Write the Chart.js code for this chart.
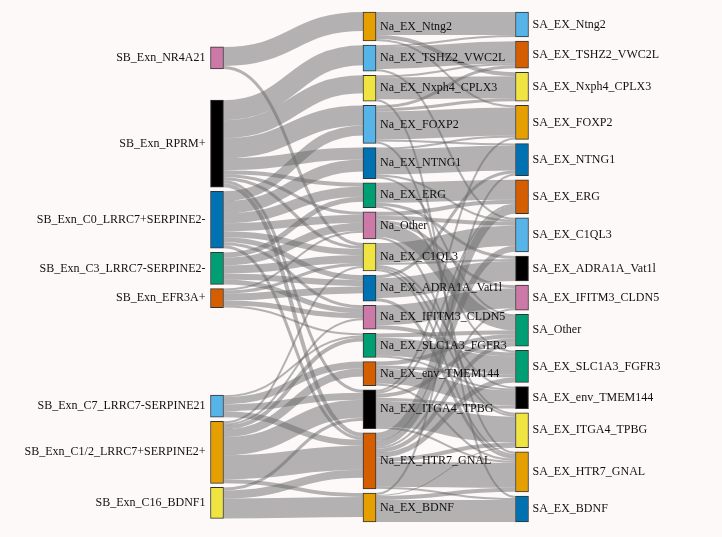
<!DOCTYPE html>
<html>
<head>
<meta charset="utf-8">
<script src="https://cdn.jsdelivr.net/npm/chart.js@4.4.0/dist/chart.umd.min.js"></script>
<style>
  html, body { margin: 0; padding: 0; background: #fdf9f9; }
</style>
</head>
<body>
<canvas id="sankey" width="722" height="537"></canvas>
<script>
// ===== DATA =====

const leftNodes = [
  "SB_Exn_NR4A21", "SB_Exn_RPRM+", "SB_Exn_C0_LRRC7+SERPINE2-", "SB_Exn_C3_LRRC7-SERPINE2-",
  "SB_Exn_EFR3A+", "SB_Exn_C7_LRRC7-SERPINE21", "SB_Exn_C1/2_LRRC7+SERPINE2+", "SB_Exn_C16_BDNF1"
];

const middleNodes = [
  "Na_EX_Ntng2", "Na_EX_TSHZ2_VWC2L", "Na_EX_Nxph4_CPLX3", "Na_EX_FOXP2", "Na_EX_NTNG1",
  "Na_EX_ERG", "Na_Other", "Na_EX_C1QL3", "Na_EX_ADRA1A_Vat1l", "Na_EX_IFITM3_CLDN5",
  "Na_EX_SLC1A3_FGFR3", "Na_EX_env_TMEM144", "Na_EX_ITGA4_TPBG", "Na_EX_HTR7_GNAL", "Na_EX_BDNF"
];

const rightNodes = [
  "SA_EX_Ntng2", "SA_EX_TSHZ2_VWC2L", "SA_EX_Nxph4_CPLX3", "SA_EX_FOXP2", "SA_EX_NTNG1",
  "SA_EX_ERG", "SA_EX_C1QL3", "SA_EX_ADRA1A_Vat1l", "SA_EX_IFITM3_CLDN5", "SA_Other",
  "SA_EX_SLC1A3_FGFR3", "SA_EX_env_TMEM144", "SA_EX_ITGA4_TPBG", "SA_EX_HTR7_GNAL", "SA_EX_BDNF"
];

// SB -> Na
const leftLinks = [
  ["SB_Exn_NR4A21", "Na_EX_Ntng2", 19],
  ["SB_Exn_NR4A21", "Na_EX_C1QL3", 3],

  ["SB_Exn_RPRM+", "Na_EX_TSHZ2_VWC2L", 20],
  ["SB_Exn_RPRM+", "Na_EX_Nxph4_CPLX3", 18],
  ["SB_Exn_RPRM+", "Na_EX_FOXP2", 20],
  ["SB_Exn_RPRM+", "Na_EX_NTNG1", 12],
  ["SB_Exn_RPRM+", "Na_EX_ERG", 4],
  ["SB_Exn_RPRM+", "Na_Other", 3],
  ["SB_Exn_RPRM+", "Na_EX_C1QL3", 3],
  ["SB_Exn_RPRM+", "Na_EX_ITGA4_TPBG", 3],
  ["SB_Exn_RPRM+", "Na_EX_HTR7_GNAL", 4],

  ["SB_Exn_C0_LRRC7+SERPINE2-", "Na_EX_FOXP2", 10],
  ["SB_Exn_C0_LRRC7+SERPINE2-", "Na_EX_NTNG1", 12],
  ["SB_Exn_C0_LRRC7+SERPINE2-", "Na_EX_ERG", 10],
  ["SB_Exn_C0_LRRC7+SERPINE2-", "Na_Other", 8],
  ["SB_Exn_C0_LRRC7+SERPINE2-", "Na_EX_C1QL3", 6],
  ["SB_Exn_C0_LRRC7+SERPINE2-", "Na_EX_ADRA1A_Vat1l", 5],
  ["SB_Exn_C0_LRRC7+SERPINE2-", "Na_EX_IFITM3_CLDN5", 3],
  ["SB_Exn_C0_LRRC7+SERPINE2-", "Na_EX_HTR7_GNAL", 3],

  ["SB_Exn_C3_LRRC7-SERPINE2-", "Na_EX_ERG", 5],
  ["SB_Exn_C3_LRRC7-SERPINE2-", "Na_Other", 8],
  ["SB_Exn_C3_LRRC7-SERPINE2-", "Na_EX_C1QL3", 8],
  ["SB_Exn_C3_LRRC7-SERPINE2-", "Na_EX_ADRA1A_Vat1l", 6],
  ["SB_Exn_C3_LRRC7-SERPINE2-", "Na_EX_IFITM3_CLDN5", 5],

  ["SB_Exn_EFR3A+", "Na_Other", 2],
  ["SB_Exn_EFR3A+", "Na_EX_C1QL3", 3],
  ["SB_Exn_EFR3A+", "Na_EX_ADRA1A_Vat1l", 7],
  ["SB_Exn_EFR3A+", "Na_EX_IFITM3_CLDN5", 5],
  ["SB_Exn_EFR3A+", "Na_EX_SLC1A3_FGFR3", 2],

  ["SB_Exn_C7_LRRC7-SERPINE21", "Na_EX_SLC1A3_FGFR3", 2],
  ["SB_Exn_C7_LRRC7-SERPINE21", "Na_EX_env_TMEM144", 7],
  ["SB_Exn_C7_LRRC7-SERPINE21", "Na_EX_ITGA4_TPBG", 7],
  ["SB_Exn_C7_LRRC7-SERPINE21", "Na_EX_HTR7_GNAL", 6],

  ["SB_Exn_C1/2_LRRC7+SERPINE2+", "Na_EX_C1QL3", 2],
  ["SB_Exn_C1/2_LRRC7+SERPINE2+", "Na_EX_IFITM3_CLDN5", 2],
  ["SB_Exn_C1/2_LRRC7+SERPINE2+", "Na_EX_SLC1A3_FGFR3", 4],
  ["SB_Exn_C1/2_LRRC7+SERPINE2+", "Na_EX_env_TMEM144", 8],
  ["SB_Exn_C1/2_LRRC7+SERPINE2+", "Na_EX_ITGA4_TPBG", 18],
  ["SB_Exn_C1/2_LRRC7+SERPINE2+", "Na_EX_HTR7_GNAL", 24],
  ["SB_Exn_C1/2_LRRC7+SERPINE2+", "Na_EX_BDNF", 4],

  ["SB_Exn_C16_BDNF1", "Na_EX_ITGA4_TPBG", 3],
  ["SB_Exn_C16_BDNF1", "Na_EX_HTR7_GNAL", 8],
  ["SB_Exn_C16_BDNF1", "Na_EX_BDNF", 20]
];

// Na -> SA
const rightLinks = [
  ["Na_EX_Ntng2", "SA_EX_Ntng2", 23],
  ["Na_EX_Ntng2", "SA_EX_Nxph4_CPLX3", 4],
  ["Na_EX_Ntng2", "SA_EX_FOXP2", 2],

  ["Na_EX_TSHZ2_VWC2L", "SA_EX_Ntng2", 2],
  ["Na_EX_TSHZ2_VWC2L", "SA_EX_TSHZ2_VWC2L", 22],
  ["Na_EX_TSHZ2_VWC2L", "SA_EX_C1QL3", 2],

  ["Na_EX_Nxph4_CPLX3", "SA_EX_TSHZ2_VWC2L", 2],
  ["Na_EX_Nxph4_CPLX3", "SA_EX_Nxph4_CPLX3", 22],
  ["Na_EX_Nxph4_CPLX3", "SA_EX_BDNF", 2],

  ["Na_EX_FOXP2", "SA_EX_TSHZ2_VWC2L", 3],
  ["Na_EX_FOXP2", "SA_EX_Nxph4_CPLX3", 3],
  ["Na_EX_FOXP2", "SA_EX_FOXP2", 28],
  ["Na_EX_FOXP2", "SA_EX_NTNG1", 2],
  ["Na_EX_FOXP2", "SA_EX_HTR7_GNAL", 2],

  ["Na_EX_NTNG1", "SA_EX_FOXP2", 2],
  ["Na_EX_NTNG1", "SA_EX_NTNG1", 25],
  ["Na_EX_NTNG1", "SA_EX_C1QL3", 2],
  ["Na_EX_NTNG1", "SA_Other", 2],

  ["Na_EX_ERG", "SA_EX_ERG", 20],
  ["Na_EX_ERG", "SA_EX_ADRA1A_Vat1l", 3],
  ["Na_EX_ERG", "SA_EX_SLC1A3_FGFR3", 2],

  ["Na_Other", "SA_EX_ERG", 4],
  ["Na_Other", "SA_EX_C1QL3", 4],
  ["Na_Other", "SA_EX_IFITM3_CLDN5", 3],
  ["Na_Other", "SA_Other", 14],
  ["Na_Other", "SA_EX_ITGA4_TPBG", 2],

  ["Na_EX_C1QL3", "SA_EX_C1QL3", 20],
  ["Na_EX_C1QL3", "SA_EX_ADRA1A_Vat1l", 2],
  ["Na_EX_C1QL3", "SA_EX_env_TMEM144", 2],
  ["Na_EX_C1QL3", "SA_EX_ITGA4_TPBG", 2],
  ["Na_EX_C1QL3", "SA_EX_HTR7_GNAL", 2],

  ["Na_EX_ADRA1A_Vat1l", "SA_EX_NTNG1", 3],
  ["Na_EX_ADRA1A_Vat1l", "SA_EX_ADRA1A_Vat1l", 20],
  ["Na_EX_ADRA1A_Vat1l", "SA_EX_HTR7_GNAL", 3],

  ["Na_EX_IFITM3_CLDN5", "SA_EX_IFITM3_CLDN5", 20],
  ["Na_EX_IFITM3_CLDN5", "SA_EX_SLC1A3_FGFR3", 4],

  ["Na_EX_SLC1A3_FGFR3", "SA_Other", 4],
  ["Na_EX_SLC1A3_FGFR3", "SA_EX_SLC1A3_FGFR3", 18],
  ["Na_EX_SLC1A3_FGFR3", "SA_EX_env_TMEM144", 2],

  ["Na_EX_env_TMEM144", "SA_Other", 4],
  ["Na_EX_env_TMEM144", "SA_EX_SLC1A3_FGFR3", 3],
  ["Na_EX_env_TMEM144", "SA_EX_env_TMEM144", 15],
  ["Na_EX_env_TMEM144", "SA_EX_HTR7_GNAL", 2],

  ["Na_EX_ITGA4_TPBG", "SA_EX_FOXP2", 2],
  ["Na_EX_ITGA4_TPBG", "SA_EX_ERG", 2],
  ["Na_EX_ITGA4_TPBG", "SA_Other", 4],
  ["Na_EX_ITGA4_TPBG", "SA_EX_env_TMEM144", 3],
  ["Na_EX_ITGA4_TPBG", "SA_EX_ITGA4_TPBG", 26],
  ["Na_EX_ITGA4_TPBG", "SA_EX_HTR7_GNAL", 2],

  ["Na_EX_HTR7_GNAL", "SA_EX_ERG", 8],
  ["Na_EX_HTR7_GNAL", "SA_EX_C1QL3", 6],
  ["Na_EX_HTR7_GNAL", "SA_EX_IFITM3_CLDN5", 2],
  ["Na_EX_HTR7_GNAL", "SA_Other", 4],
  ["Na_EX_HTR7_GNAL", "SA_EX_SLC1A3_FGFR3", 5],
  ["Na_EX_HTR7_GNAL", "SA_EX_ITGA4_TPBG", 4],
  ["Na_EX_HTR7_GNAL", "SA_EX_HTR7_GNAL", 25],
  ["Na_EX_HTR7_GNAL", "SA_EX_BDNF", 2],

  ["Na_EX_BDNF", "SA_EX_NTNG1", 2],
  ["Na_EX_BDNF", "SA_EX_ITGA4_TPBG", 1],
  ["Na_EX_BDNF", "SA_EX_HTR7_GNAL", 4],
  ["Na_EX_BDNF", "SA_EX_BDNF", 22]
];

// ===== STYLE =====

const leftColours = ["#CC79A7", "#000000", "#0072B2", "#009E73", "#D55E00", "#56B4E9", "#E69F00", "#F0E442"];
const middleColours = ["#E69F00", "#56B4E9", "#F0E442", "#56B4E9", "#0072B2", "#009E73", "#CC79A7", "#F0E442",
  "#0072B2", "#CC79A7", "#009E73", "#D55E00", "#000000", "#D55E00", "#E69F00"];
const rightColours = ["#56B4E9", "#D55E00", "#F0E442", "#E69F00", "#0072B2", "#D55E00", "#56B4E9", "#000000",
  "#CC79A7", "#009E73", "#009E73", "#000000", "#F0E442", "#E69F00", "#0072B2"];

const NODE_W = 13;
const NODE_PAD = 4.15;
const LINK_COLOUR = "rgba(105,105,105,0.5)";
const BG = "#fdf9f9";

//
// ===== LAYOUT (sankey style) =====
//

const columns = [leftNodes, middleNodes, rightNodes];
const colours = [leftColours, middleColours, rightColours];

const nodes = {};
columns.forEach((names, c) => names.forEach((n, i) => {
  nodes[n] = { name: n, col: c, index: i, inV: 0, outV: 0, srcLinks: [], tgtLinks: [] };
}));

const links = leftLinks.concat(rightLinks).map(l => ({ src: l[0], tgt: l[1], value: l[2] }));
links.forEach(l => {
  nodes[l.src].outV += l.value;
  nodes[l.src].srcLinks.push(l);
  nodes[l.tgt].inV += l.value;
  nodes[l.tgt].tgtLinks.push(l);
});
Object.values(nodes).forEach(n => n.value = Math.max(n.inV, n.outV));

const sum = arr => arr.reduce((a, b) => a + b, 0);
const extent = Math.max(...columns.map(names =>
  sum(names.map(n => nodes[n].value)) + (names.length - 1) * NODE_PAD));

function resolveCollisions(names) {
  let y = 0;
  names.forEach(n => {
    const node = nodes[n];
    if (node.y0 < y) node.y0 = y;
    y = node.y0 + node.value + NODE_PAD;
  });
  let bottom = extent;
  for (let i = names.length - 1; i >= 0; i--) {
    const node = nodes[names[i]];
    if (node.y0 + node.value > bottom) node.y0 = bottom - node.value;
    bottom = node.y0 - NODE_PAD;
  }
}

columns.forEach(names => {
  let y = 0;
  names.forEach(n => { nodes[n].y0 = y; y += nodes[n].value + NODE_PAD; });
});

const centre = n => n.y0 + n.value / 2;

// pull each column towards the nodes it feeds
for (let c = columns.length - 2; c >= 0; c--) {
  columns[c].forEach(n => {
    const node = nodes[n];
    if (!node.srcLinks.length) return;
    const w = sum(node.srcLinks.map(l => centre(nodes[l.tgt]) * l.value)) / node.outV;
    node.y0 = w - node.value / 2;
  });
  resolveCollisions(columns[c]);
}

// link offsets inside nodes
Object.values(nodes).forEach(node => {
  let sy = node.y0;
  node.srcLinks.slice().sort((a, b) => nodes[a.tgt].y0 - nodes[b.tgt].y0)
    .forEach(l => { l.sy = sy; sy += l.value; });
  let ty = node.y0;
  node.tgtLinks.slice().sort((a, b) => nodes[a.src].y0 - nodes[b.src].y0)
    .forEach(l => { l.ty = ty; ty += l.value; });
});

//
// ===== CHART =====
//

const maxRows = Math.max(...columns.map(c => c.length));
const datasets = [];
for (let k = 0; k < maxRows; k++) {
  datasets.push({
    data: columns.map(names => names[k] ? [nodes[names[k]].y0, nodes[names[k]].y0 + nodes[names[k]].value] : null),
    backgroundColor: colours.map(cs => cs[k] || "transparent"),
    borderColor: "#333333",
    borderWidth: 1,
    borderSkipped: false,
    barThickness: NODE_W,
    grouped: false,
    clip: false
  });
}

const background = {
  id: "background",
  beforeDraw(chart) {
    const { ctx, width, height } = chart;
    ctx.save();
    ctx.fillStyle = BG;
    ctx.fillRect(0, 0, width, height);
    ctx.restore();
  }
};

const linkLayer = {
  id: "linkLayer",
  beforeDatasetsDraw(chart) {
    const { ctx, scales: { x, y } } = chart;
    ctx.save();
    ctx.strokeStyle = LINK_COLOUR;
    ctx.lineCap = "butt";
    links.forEach(l => {
      const s = nodes[l.src], t = nodes[l.tgt];
      const x0 = x.getPixelForValue(s.col) + NODE_W / 2;
      const x1 = x.getPixelForValue(t.col) - NODE_W / 2;
      const y0 = y.getPixelForValue(l.sy + l.value / 2);
      const y1 = y.getPixelForValue(l.ty + l.value / 2);
      const xm = (x0 + x1) / 2;
      ctx.lineWidth = Math.abs(y.getPixelForValue(l.value) - y.getPixelForValue(0));
      ctx.beginPath();
      ctx.moveTo(x0, y0);
      ctx.bezierCurveTo(xm, y0, xm, y1, x1, y1);
      ctx.stroke();
    });
    ctx.restore();
  }
};

const nodeLabels = {
  id: "nodeLabels",
  afterDatasetsDraw(chart) {
    const { ctx, scales: { x, y } } = chart;
    ctx.save();
    ctx.font = '12px "Liberation Serif", "DejaVu Serif", serif';
    ctx.fillStyle = "#111111";
    ctx.textBaseline = "middle";
    Object.values(nodes).forEach(n => {
      const cx = x.getPixelForValue(n.col);
      const cy = y.getPixelForValue(centre(n));
      if (n.col === 0) {
        ctx.textAlign = "right";
        ctx.fillText(n.name, cx - NODE_W / 2 - 5, cy);
      } else {
        ctx.textAlign = "left";
        ctx.fillText(n.name, cx + NODE_W / 2 + 4, cy);
      }
    });
    ctx.restore();
  }
};

new Chart(document.getElementById("sankey"), {
  type: "bar",
  data: { labels: ["SB", "Na", "SA"], datasets },
  options: {
    responsive: false,
    animation: false,
    layout: { padding: { left: 217, right: 200, top: 12, bottom: 15 } },
    scales: {
      x: { type: "category", offset: false, display: false },
      y: { min: 0, max: extent, reverse: true, display: false }
    },
    plugins: {
      legend: { display: false },
      tooltip: { enabled: false }
    }
  },
  plugins: [background, linkLayer, nodeLabels]
});
</script>
</body>
</html>
